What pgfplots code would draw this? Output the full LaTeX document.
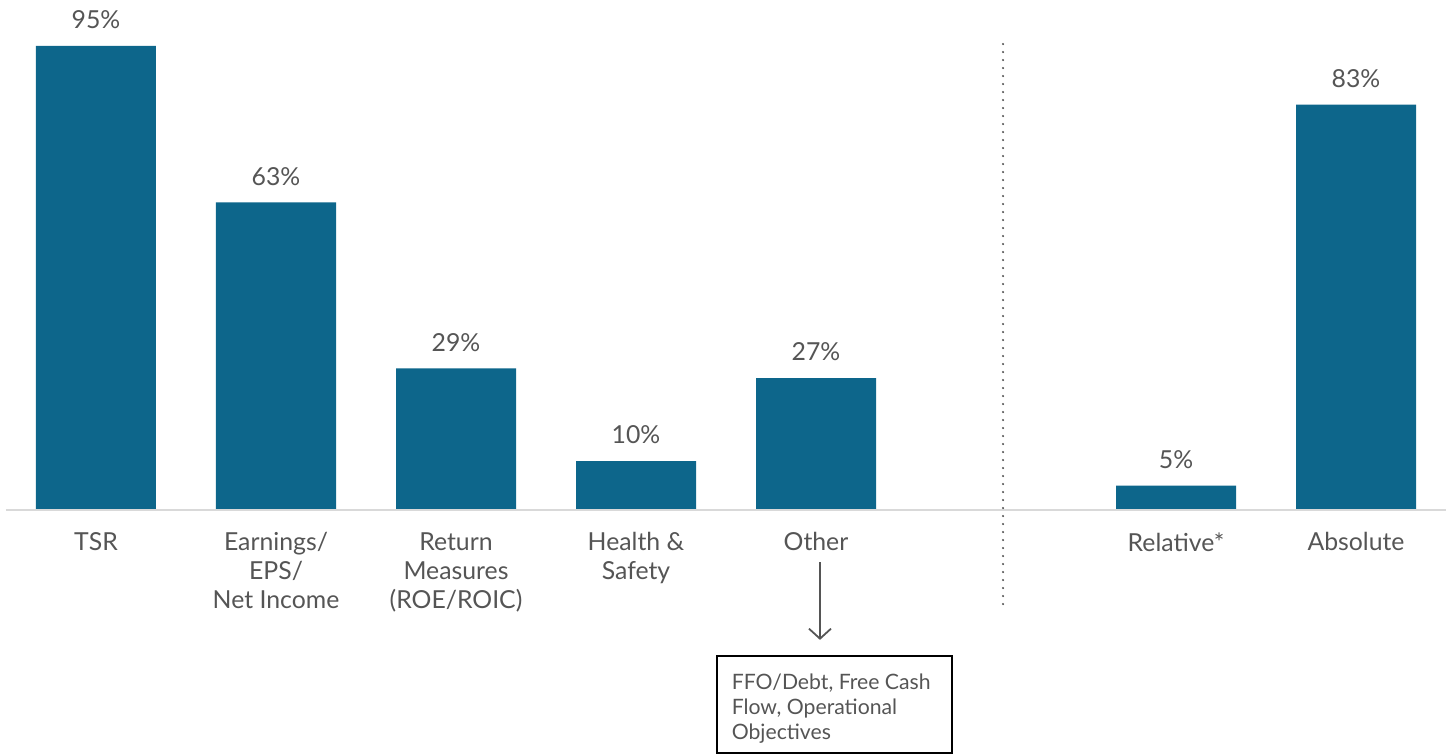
\documentclass[border=0pt]{standalone}
\usepackage{pgfplots}
\pgfplotsset{compat=1.18}
\usepackage{fontspec}
\setmainfont{Lato}
\usetikzlibrary{arrows.meta}
\definecolor{barblue}{HTML}{0D668B}
\definecolor{txtgray}{HTML}{555555}
\definecolor{basegray}{HTML}{D9D9D9}
\begin{document}
\begin{tikzpicture}
\begin{axis}[
    name=ax,
    scale only axis,
    width=726pt, height=377pt,
    xmin=-0.5333, xmax=7.5333,
    ymin=-49.96, ymax=104.42,
    axis x line=middle, axis y line=none,
    x axis line style={draw=none},
    ytick=\empty,
    xtick={0,1,2,3,4,6,7},
    xticklabels={TSR, Earnings/\\EPS/\\Net Income, Return\\Measures\\(ROE/ROIC), Health \&\\Safety, Other, Relative*, Absolute},
    xtick style={draw=none},
    xticklabel style={anchor=north, align=center, font=\fontsize{12.4}{14.5}\selectfont, text=txtgray, yshift=-3.5pt},
    ybar, bar width=60pt,
    clip=false,
    /pgf/number format/assume math mode=true,
    nodes near coords={\pgfmathprintnumber{\pgfplotspointmeta}\%},
    nodes near coords style={font=\fontsize{12.4}{14.5}\selectfont, text=txtgray, yshift=5pt},
]
\addplot[fill=barblue, draw=none] coordinates {
    (0,95) (1,63) (2,29) (3,10) (4,27) (6,5) (7,83)
};
% baseline
\draw[basegray, line width=1pt] (axis cs:-0.5,0) -- (axis cs:7.5,0);
% divider
\draw[txtgray, line width=1.2pt, dash pattern=on 0pt off 4pt, line cap=round]
    (axis cs:5.039,95.4) -- (axis cs:5.039,-20.07);
% arrow to note
\draw[txtgray, line width=0.9pt, -{Straight Barb[length=5pt, width=11pt]}]
    (axis cs:4.022,-10.65) -- (axis cs:4.022,-26.6);
\draw[black, line width=1pt] (axis cs:3.45,-29.9) rectangle (axis cs:4.756,-49.8);
\node[anchor=north west, align=left, text=txtgray, inner sep=0pt,
      font=\fontsize{10.6}{12.5}\selectfont]
    at (axis cs:3.53,-33.5) {FFO/Debt, Free Cash\\Flow, Operational\\Objectives};
\end{axis}
\pgfresetboundingbox
\path[use as bounding box] (ax.south west) rectangle (ax.north east);
\end{tikzpicture}
\end{document}
